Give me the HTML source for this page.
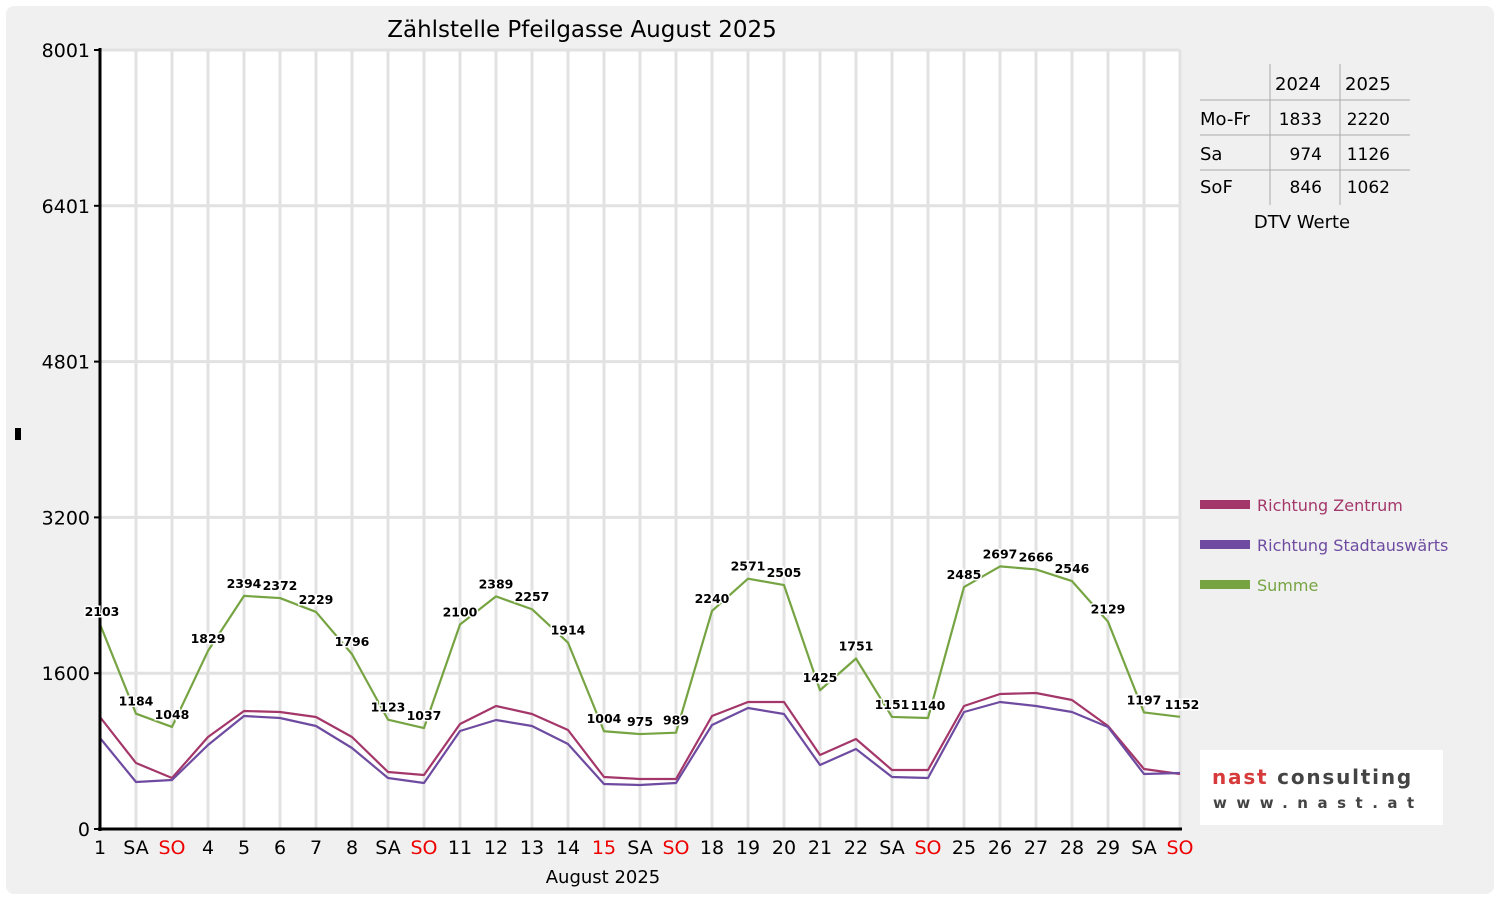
<!DOCTYPE html>
<html><head><meta charset="utf-8"><style>
html,body{margin:0;padding:0;background:#fff;}
svg{display:block;font-family:"DejaVu Sans","Liberation Sans",sans-serif;}
</style></head><body>
<svg id="s" width="1500" height="900" xmlns="http://www.w3.org/2000/svg">
<rect x="0" y="0" width="1500" height="900" fill="#fff"/>
<rect x="6" y="6" width="1488" height="888" rx="8" fill="#f0f0f0"/>
<rect x="100" y="50" width="1080" height="779" fill="#fff"/>
<g id="grid"></g>
<text x="582" y="37" font-size="23" text-anchor="middle" fill="#000">Zählstelle Pfeilgasse August 2025</text>
<g id="lines"></g>
<line x1="100" y1="48" x2="100" y2="831" stroke="#000" stroke-width="3"/>
<line x1="98" y1="829" x2="1182" y2="829" stroke="#000" stroke-width="3"/>
<g id="ax" font-size="19"></g>
<text x="603" y="883" font-size="18" text-anchor="middle">August 2025</text>
<rect x="15" y="428" width="6" height="12" fill="#000"/>
<!-- table -->
<g font-size="18" fill="#000">
<line x1="1270" y1="64" x2="1270" y2="205" stroke="#aaa"/>
<line x1="1340" y1="64" x2="1340" y2="205" stroke="#aaa"/>
<line x1="1200" y1="100" x2="1410" y2="100" stroke="#aaa"/>
<line x1="1200" y1="135" x2="1410" y2="135" stroke="#aaa"/>
<line x1="1200" y1="170" x2="1410" y2="170" stroke="#aaa"/>
<text x="1275" y="90">2024</text><text x="1345" y="90">2025</text>
<text x="1200" y="125">Mo-Fr</text><text x="1322" y="125" text-anchor="end" font-size="17">1833</text><text x="1390" y="125" text-anchor="end" font-size="17">2220</text>
<text x="1200" y="160">Sa</text><text x="1322" y="160" text-anchor="end" font-size="17">974</text><text x="1390" y="160" text-anchor="end" font-size="17">1126</text>
<text x="1200" y="193">SoF</text><text x="1322" y="193" text-anchor="end" font-size="17">846</text><text x="1390" y="193" text-anchor="end" font-size="17">1062</text>
<text x="1302" y="228" text-anchor="middle">DTV Werte</text>
</g>
<!-- legend -->
<g font-size="16">
<rect x="1200" y="500" width="50" height="9" fill="#a4376a"/><text x="1257" y="511" fill="#a4376a">Richtung Zentrum</text>
<rect x="1200" y="540" width="50" height="9" fill="#6e4ba0"/><text x="1257" y="551" fill="#6e4ba0">Richtung Stadtauswärts</text>
<rect x="1200" y="580" width="50" height="9" fill="#76a443"/><text x="1257" y="591" fill="#76a443">Summe</text>
</g>
<rect x="1200" y="750" width="243" height="75" fill="#fff"/>
<text x="1212" y="784" font-size="20" font-weight="900" fill="#d63a3a" letter-spacing="1.8">nast <tspan fill="#444">consulting</tspan></text>
<text x="1213" y="808" font-size="15" font-weight="bold" fill="#444" letter-spacing="9.5">www.nast.at</text>
<g id="lab" font-size="12.5" font-weight="bold"></g>
</svg>
<script>
var NS="http://www.w3.org/2000/svg";
function el(p,t,a,txt){var e=document.createElementNS(NS,t);for(var k in a)e.setAttribute(k,a[k]);if(txt!=null)e.textContent=txt;document.getElementById(p).appendChild(e);return e;}
var X=function(i){return 100+36*i;};
var Y=function(v){return 829-v*0.09737;};
for(var i=1;i<31;i++)el("grid","line",{x1:X(i),y1:50,x2:X(i),y2:829,stroke:"#e2e2e2","stroke-width":3});
var yt=[0,1600,3200,4801,6401,8001];
yt.forEach(function(v,k){var y=829-k*155.8;if(k>0)el("grid","line",{x1:100,y1:y,x2:1180,y2:y,stroke:"#e2e2e2","stroke-width":3});
el("ax","line",{x1:94,y1:y,x2:100,y2:y,stroke:"#000","stroke-width":2});
el("ax","text",{x:90,y:y+7,"text-anchor":"end"},String(v));});
var names=["1","SA","SO","4","5","6","7","8","SA","SO","11","12","13","14","15","SA","SO","18","19","20","21","22","SA","SO","25","26","27","28","29","SA","SO"];
names.forEach(function(n,i){var red=(n=="SO"||n=="15");el("ax","text",{x:X(i),y:854,"text-anchor":"middle",fill:red?"#e00":"#000"},n);});
var S=[2103,1184,1048,1829,2394,2372,2229,1796,1123,1037,2100,2389,2257,1914,1004,975,989,2240,2571,2505,1425,1751,1151,1140,2485,2697,2666,2546,2129,1197,1152];
var Z=[717,763,778,737,711,712,717,737,772,775,724,706,714,730,777,779,779,716,702,702,755,739,770,770,706,694,693,700,726,769,774];
var A=[738,782,780,745,716,718,726,748,778,783,731,720,726,744,784,785,783,725,708,714,765,749,777,778,712,702,706,712,727,774,773];
function poly(arr,f,c){el("lines","polyline",{points:arr.map(function(v,i){return X(i)+","+f(v);}).join(" "),fill:"none",stroke:c,"stroke-width":2.2,"stroke-linejoin":"round"});}
poly(Z,function(v){return v;},"#a4376a");
poly(A,function(v){return v;},"#6e4ba0");
poly(S,Y,"#76a443");
S.forEach(function(v,i){var x=X(i);if(i==0)x=102;if(i==30)x=1182;
el("lab","text",{x:x,y:Y(v)-8,"text-anchor":"middle",stroke:"#fff","stroke-width":3,"paint-order":"stroke"},String(v));});
</script>
</body></html>
